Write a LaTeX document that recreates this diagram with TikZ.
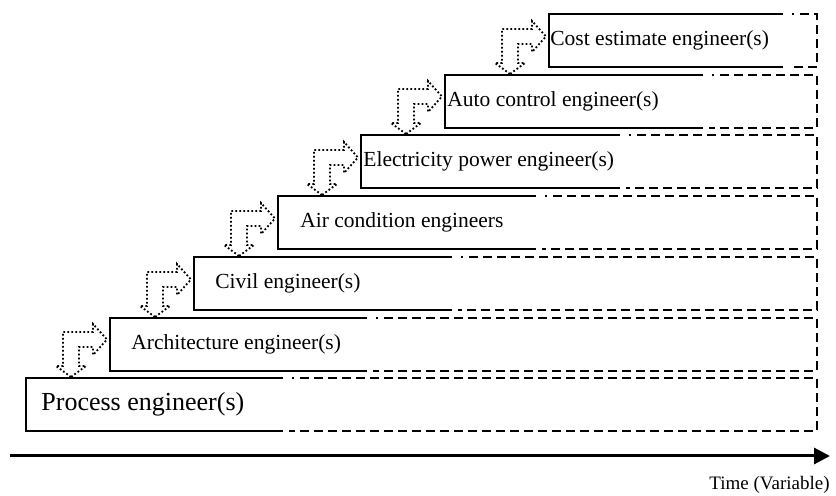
\documentclass[tikz,border=0pt]{standalone}
\usepackage{fontspec}
\setmainfont{Liberation Serif}
\usetikzlibrary{arrows.meta}

\tikzset{
  stageline/.style = {line width=1pt},
  stagedash/.style = {dash pattern=on 4.5pt off 2.5pt},
  stagelabel/.style = {anchor=west, inner sep=0pt, font=\fontsize{10.75}{12}\selectfont},
  handover/.pic = {
    \draw[line width=0.9pt, dash pattern=on 0.9pt off 1.1pt]
      (-39,-1) -- (-54,-12) -- (-47,-12) -- (-47,-46) -- (-17,-46) -- (-17,-54)
      -- (-3,-38.5) -- (-17,-23) -- (-17,-31) -- (-31,-31) -- (-31,-12)
      -- (-24,-12) -- cycle;
  }
}

% one stage: name, left, top, end of the solid part
\newcommand{\stagebox}[4]{%
  \coordinate (#1-nw) at (#2,#3);
  \coordinate (#1-sw) at (#2,{#3+53});
  \draw[stageline] (#4,#3) -- (#1-nw) -- (#1-sw) -- (#4,{#3+53});
  \draw[stageline] ({#4+9},#3) -- ({#4+11},#3);
  \draw[stageline, stagedash] ({#4+17},#3) -- (817,#3) -- (817,{#3+53}) -- ({#4+6},{#3+53});
}

\begin{document}
\begin{tikzpicture}[x=0.5pt, y=-0.5pt]
  \useasboundingbox (0,0) rectangle (836,496);

  \stagebox{proc}{26}{378}{283}
  \stagebox{arch}{110}{318}{367}
  \stagebox{civil}{194}{257}{452}
  \stagebox{air}{278}{196}{536}
  \stagebox{elec}{361}{135}{620}
  \stagebox{auto}{445}{75}{703}
  \stagebox{cost}{549}{14}{783}

  \node[stagelabel, font=\fontsize{13}{15}\selectfont] (procl) at (41,404.5) {Process engineer(s)};
  \node[stagelabel] (archl) at (131,344.5) {Architecture engineer(s)};
  \node[stagelabel] (civill) at (215,283.5) {Civil engineer(s)};
  \node[stagelabel] (airl) at (300,222.5) {Air condition engineers};
  \node[stagelabel] (elecl) at (363,161.5) {Electricity power engineer(s)};
  \node[stagelabel] (autol) at (447,101.5) {Auto control engineer(s)};
  \node[stagelabel] (costl) at (550,40.5) {Cost estimate engineer(s)};

  \pic at (arch-nw |- proc-nw) {handover};
  \pic at (civil-nw |- arch-nw) {handover};
  \pic at (air-nw |- civil-nw) {handover};
  \pic at (elec-nw |- air-nw) {handover};
  \pic at (auto-nw |- elec-nw) {handover};
  \pic at (cost-nw |- auto-nw) {handover};

  % time axis
  \coordinate (t0) at (10,456);
  \coordinate (t1) at (830,456);
  \draw[line width=1.5pt, -{Triangle[length=8pt, width=8pt]}] (t0) -- (t1);
  \node[anchor=base east, inner sep=0pt, font=\fontsize{9.5}{11}\selectfont] (timel) at (830,490) {Time (Variable)};
\end{tikzpicture}
\end{document}
